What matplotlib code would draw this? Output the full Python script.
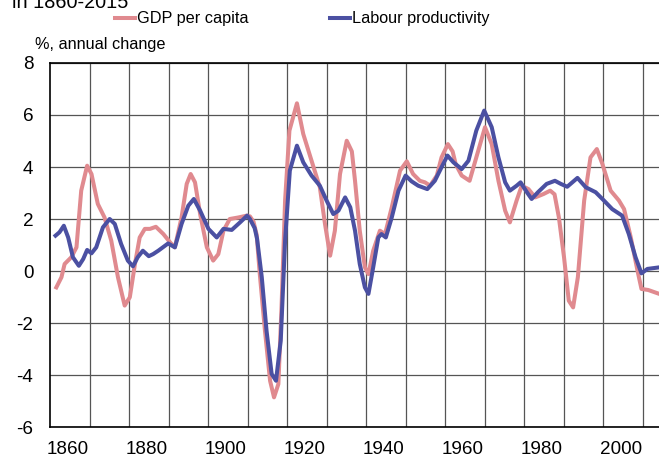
import matplotlib
matplotlib.use("Agg")
import matplotlib.pyplot as plt
from matplotlib.lines import Line2D
import numpy as np

plt.rcParams['font.family'] = ['Liberation Sans', 'DejaVu Sans']

# values (year, % annual change)
gdp_years = [1857.1, 1858.4, 1859.2, 1860.9, 1862.2, 1863.4, 1864.9, 1866.0, 1867.6, 1869.3,
             1871.0, 1872.7, 1874.4, 1875.7, 1877.0, 1878.2, 1879.5, 1880.8, 1882.3, 1884.2,
             1885.9, 1887.1, 1888.8, 1890.1, 1891.1, 1892.2, 1893.5, 1895.2, 1896.8, 1898.1,
             1899.4, 1901.0, 1903.2, 1905.3, 1906.1, 1907.0, 1907.8, 1908.6, 1909.9, 1911.2,
             1912.2, 1913.3, 1914.1, 1915.0, 1916.1, 1918.0, 1919.6, 1921.7, 1923.8, 1925.1,
             1926.4, 1927.6, 1928.9, 1930.6, 1931.9, 1932.7, 1933.9, 1935.2, 1936.1, 1937.3,
             1939.0, 1940.3, 1942.0, 1944.1, 1945.8, 1947.4, 1949.1, 1950.4, 1951.7, 1953.4,
             1954.6, 1956.2, 1957.4, 1958.2, 1959.7, 1961.7, 1963.4, 1965.6, 1967.3, 1969.0,
             1970.7, 1971.9, 1973.6, 1974.9, 1976.6, 1978.3, 1980.4, 1982.1, 1983.2, 1984.3,
             1985.6, 1986.8, 1987.9, 1989.1, 1990.7, 1992.3, 1993.9, 1995.3, 1997.4, 1999.5,
             2000.8, 2002.5, 2004.2, 2005.2, 2006.9, 2009.7]
gdp_values = [-0.63, -0.24, 0.27, 0.53, 0.91, 3.09, 4.05, 3.73, 2.58, 2.06,
              1.17, -0.24, -1.33, -1.01, 0.27, 1.29, 1.62, 1.62, 1.70, 1.42,
              1.10, 0.91, 2.06, 3.35, 3.73, 3.41, 2.19, 0.91, 0.40, 0.65,
              1.55, 2.00, 2.06, 2.13, 2.10, 1.90, 1.40, -0.12, -2.29, -4.22,
              -4.86, -4.35, -1.40, 2.71, 5.40, 6.45, 5.27, 4.24, 3.22, 1.81,
              0.59, 1.55, 3.73, 5.01, 4.60, 3.47, 1.55, 0.14, -0.12, 0.78,
              1.55, 1.42, 2.45, 3.86, 4.22, 3.73, 3.47, 3.41, 3.28, 3.67,
              4.37, 4.88, 4.60, 4.10, 3.67, 3.47, 4.37, 5.53, 4.88, 3.47,
              2.32, 1.87, 2.71, 3.28, 3.15, 2.83, 2.96, 3.09, 2.95, 2.06,
              0.53, -1.14, -1.40, -0.24, 2.71, 4.37, 4.69, 4.12, 3.09, 2.71,
              2.38, 1.29, 0.01, -0.69, -0.73, -0.88]

lab_years = [1856.9, 1857.9, 1859.0, 1860.1, 1861.3, 1862.8, 1863.9, 1864.9, 1866.0, 1867.2,
             1868.9, 1870.6, 1871.9, 1873.5, 1875.2, 1876.5, 1877.7, 1879.0, 1880.5, 1881.6,
             1882.9, 1885.4, 1887.1, 1888.8, 1890.5, 1891.9, 1893.5, 1895.6, 1897.7, 1899.4,
             1901.5, 1903.6, 1905.4, 1906.1, 1907.3, 1907.9, 1909.1, 1910.3, 1911.6, 1912.7,
             1913.9, 1915.0, 1916.2, 1918.0, 1919.6, 1921.7, 1923.8, 1925.5, 1927.2, 1928.5,
             1930.2, 1931.5, 1932.7, 1933.9, 1935.2, 1936.1, 1937.3, 1938.6, 1939.4, 1940.5,
             1942.0, 1943.7, 1945.5, 1947.0, 1948.7, 1951.0, 1952.9, 1954.6, 1956.1, 1957.6,
             1959.7, 1961.4, 1963.4, 1965.4, 1967.3, 1969.0, 1970.7, 1971.9, 1973.6, 1974.6,
             1976.2, 1977.4, 1979.0, 1981.2, 1983.3, 1984.8, 1986.4, 1989.0, 1991.1, 1993.6,
             1995.7, 1997.8, 2000.3, 2002.0, 2003.7, 2005.2, 2006.7, 2009.7]
lab_values = [1.36, 1.49, 1.74, 1.29, 0.53, 0.20, 0.46, 0.81, 0.68, 0.91,
              1.68, 2.00, 1.81, 1.04, 0.40, 0.18, 0.53, 0.78, 0.57, 0.65,
              0.78, 1.06, 0.91, 1.81, 2.51, 2.77, 2.32, 1.62, 1.29, 1.62,
              1.58, 1.87, 2.13, 2.00, 1.65, 1.25, -0.24, -2.29, -3.96, -4.22,
              -2.68, 1.17, 3.86, 4.82, 4.18, 3.67, 3.28, 2.71, 2.19, 2.32,
              2.83, 2.45, 1.55, 0.27, -0.63, -0.88, 0.14, 1.29, 1.42, 1.29,
              2.06, 3.09, 3.67, 3.45, 3.28, 3.15, 3.47, 3.99, 4.44, 4.18,
              3.92, 4.24, 5.40, 6.17, 5.53, 4.37, 3.41, 3.09, 3.28, 3.41,
              3.03, 2.77, 3.03, 3.35, 3.47, 3.35, 3.24, 3.58, 3.22, 3.03,
              2.71, 2.38, 2.13, 1.42, 0.53, -0.09, 0.08, 0.14]

x_labels = [1860, 1880, 1900, 1920, 1940, 1960, 1980, 2000]
y_ticks = [-6, -4, -2, 0, 2, 4, 6, 8]

pink = '#E08A8F'
blue = '#4B50A2'

W, H = 659, 461
fig = plt.figure(figsize=(W / 100, H / 100), dpi=100)
ax = fig.add_axes([50 / W, 1 - 427 / H, 609 / W, 364 / H])

ax.plot(gdp_years, gdp_values, color=pink, lw=2.9, solid_joinstyle='round', zorder=3)
ax.plot(lab_years, lab_values, color=blue, lw=2.9, solid_joinstyle='round', zorder=4)

ax.set_xlim(1855.5, 1855.5 + 609 / 3.951)
ax.set_ylim(-6, 8)

# gridlines sit on decade boundaries, labels in between
ax.set_xticks(np.arange(1865.5, 2010, 10))
ax.set_xticklabels([])
ax.set_xticks(x_labels, minor=True)
ax.set_xticklabels([str(y) for y in x_labels], minor=True)
ax.tick_params(axis='x', which='both', length=0, pad=10, labelsize=13.6)
ax.set_yticks(y_ticks)
ax.set_yticklabels([str(v) for v in y_ticks])
ax.tick_params(axis='y', length=0, pad=12, labelsize=13.6)
ax.grid(True, which='major', color='#555555', lw=0.9)

for s in ['left', 'bottom', 'top']:
    ax.spines[s].set_color('black')
    ax.spines[s].set_linewidth(1.2)
ax.spines['right'].set_visible(False)

# legend drawn by hand above the plot
ly = 1 - 18 / H
fig.add_artist(Line2D([115 / W, 135 / W], [ly, ly], color=pink, lw=2.9))
fig.text(137 / W, ly, 'GDP per capita', fontsize=11.7, va='center')
fig.add_artist(Line2D([330 / W, 350 / W], [ly, ly], color=blue, lw=2.9))
fig.text(352 / W, ly, 'Labour productivity', fontsize=11.7, va='center')

fig.text(35 / W, 1 - 44 / H, '%, annual change', fontsize=11.7, va='center')
fig.text(12 / W, 1 - 7.5 / H, 'in 1860-2015', fontsize=14.3, va='baseline')

fig.savefig('out.png', dpi=100)
